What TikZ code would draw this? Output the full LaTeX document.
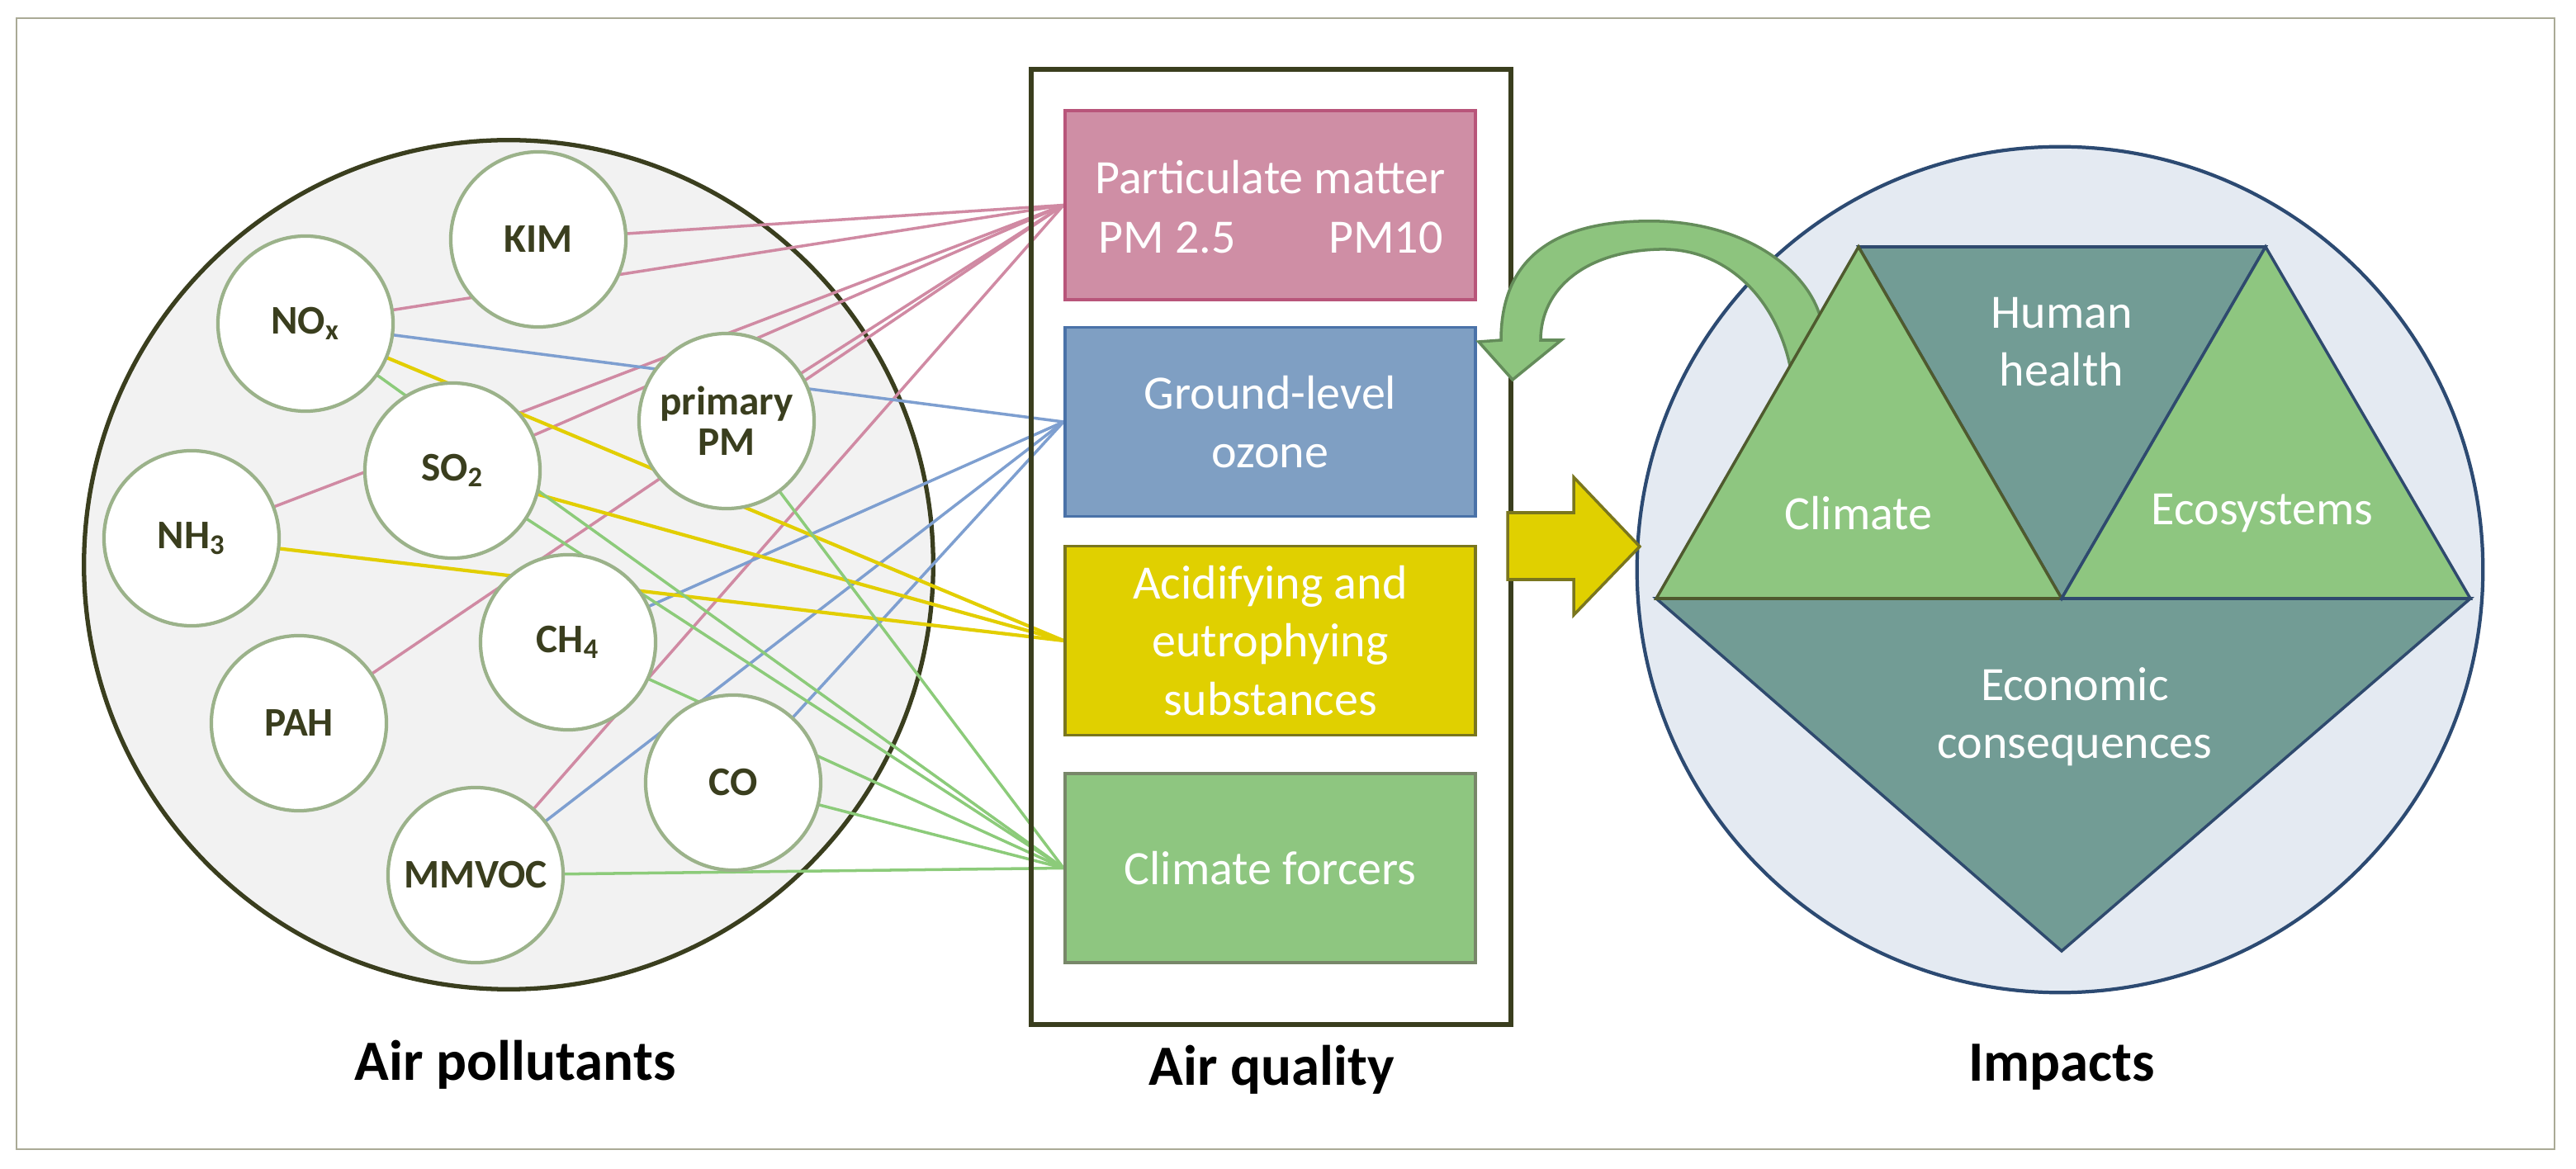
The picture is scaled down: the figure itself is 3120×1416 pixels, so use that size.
\documentclass[tikz,border=0pt]{standalone}
\usepackage{fontspec}
\setmainfont{Carlito}
\definecolor{frameC}{RGB}{170,170,150}
\definecolor{olive}{RGB}{58,62,30}
\definecolor{bigfill}{RGB}{242,242,242}
\definecolor{smallB}{RGB}{155,178,138}
\definecolor{pmF}{RGB}{207,142,165}\definecolor{pmB}{RGB}{184,85,122}
\definecolor{ozF}{RGB}{127,159,195}\definecolor{ozB}{RGB}{74,114,168}
\definecolor{acF}{RGB}{224,208,0}\definecolor{acB}{RGB}{122,118,30}
\definecolor{clF}{RGB}{142,198,128}\definecolor{clB}{RGB}{120,135,105}
\definecolor{pinkL}{RGB}{208,138,163}\definecolor{blueL}{RGB}{126,159,208}
\definecolor{yelL}{RGB}{226,206,0}\definecolor{greenL}{RGB}{140,203,122}
\definecolor{triG}{RGB}{142,198,128}\definecolor{triT}{RGB}{114,156,149}
\definecolor{triGB}{RGB}{79,90,46}\definecolor{triTB}{RGB}{47,74,110}
\definecolor{rcF}{RGB}{228,234,242}\definecolor{rcB}{RGB}{44,74,114}
\definecolor{arG}{RGB}{141,196,126}\definecolor{arGB}{RGB}{100,140,90}
\pgfdeclarelayer{back}\pgfdeclarelayer{lines}
\pgfsetlayers{back,lines,main}
\tikzset{
 pol/.style={circle,draw=smallB,fill=white,line width=1.2pt,minimum size=2.12cm,inner sep=0pt,
   text=olive,font=\fontsize{14}{16}\selectfont\bfseries,align=center},
 aq/.style={rectangle,line width=1pt,minimum width=4.97cm,minimum height=2.29cm,inner sep=0pt,
   text=white,font=\fontsize{16.5}{20}\selectfont,align=center},
 lbl/.style={font=\fontsize{19.6}{22}\selectfont\bfseries,text=black},
 wtxt/.style={text=white,font=\fontsize{16.5}{20}\selectfont,align=center},
 pl/.style={pinkL,line width=1pt},
 bl/.style={blueL,line width=1pt},
 yl/.style={yelL,line width=1.2pt},
 gl/.style={greenL,line width=1pt},
}
\begin{document}
\begin{tikzpicture}[x=0.01cm,y=-0.01cm]
\useasboundingbox (0,0) rectangle (3120,1416);
\draw[frameC,line width=0.8pt] (20,22) rectangle (3094,1392);
\begin{pgfonlayer}{back}
\node[circle,draw=olive,fill=bigfill,line width=1.5pt,minimum size=10.28cm] (big) at (616,684) {};
\end{pgfonlayer}
\node[pol] (kim) at (652,290) {KIM};
\node[pol] (nox) at (370,392) {NO\textsubscript{x}};
\node[pol] (ppm) at (880,510) {primary\\[-2pt]PM};
\node[pol] (so2) at (548,570) {SO\textsubscript{2}};
\node[pol] (nh3) at (232,652) {NH\textsubscript{3}};
\node[pol] (ch4) at (688,778) {CH\textsubscript{4}};
\node[pol] (pah) at (362,876) {PAH};
\node[pol] (co) at (888,948) {CO};
\node[pol] (mmvoc) at (576,1060) {MMVOC};
\node[lbl] (lp) at (624,1290) {Air pollutants};
\draw[olive,line width=1.5pt] (1249,84) rectangle (1830,1241);
\node[aq,fill=pmF,draw=pmB] (pm) at (1538.5,248.5) {};
\node[wtxt] (pmt) at (1538.5,215) {Particulate matter};
\node[wtxt,anchor=west] (pm25) at (1318,288) {PM 2.5};
\node[wtxt,anchor=east] (pm10) at (1760,288) {PM10};
\node[aq,fill=ozF,draw=ozB] (oz) at (1538.5,511) {Ground-level\\ozone};
\node[aq,fill=acF,draw=acB] (ac) at (1538.5,776) {Acidifying and\\eutrophying\\substances};
\node[aq,fill=clF,draw=clB] (cl) at (1538.5,1051.5) {Climate forcers};
\node[lbl] (la) at (1540,1296) {Air quality};
\begin{pgfonlayer}{lines}
\foreach \s in {kim,nox,so2,nh3,pah,mmvoc,ppm} \draw[pl] (\s.center) -- (pm.west);
\foreach \s in {nox,ch4,mmvoc,co} \draw[bl] (\s.center) -- (oz.west);
\foreach \s in {nox,so2,nh3} \draw[yl] (\s.center) -- (ac.west);
\foreach \s in {nox,so2,ch4,ppm,co,mmvoc} \draw[gl] (\s.center) -- (cl.west);
\end{pgfonlayer}
\node[circle,draw=rcB,fill=rcF,line width=1.2pt,minimum size=10.24cm] (rc) at (2495,690) {};
\filldraw[fill=arG,draw=arGB,line width=1pt] (1818,412) .. controls (1818,300) and (1900,265) .. (2010,268)
  .. controls (2120,272) and (2190,330) .. (2205,385) -- (2168,443)
  .. controls (2150,360) and (2090,300) .. (2010,302) .. controls (1920,304) and (1866,350) .. (1866,412)
  -- (1891,412) -- (1832,460) -- (1791,414) -- cycle;
\filldraw[fill=acF,draw=acB,line width=1pt] (1826,621) -- (1906,621) -- (1906,578) -- (1986,662) -- (1906,745) -- (1906,702) -- (1826,702) -- cycle;
\filldraw[fill=triT,draw=triTB,line width=1pt] (2006,725) -- (2992,725) -- (2497,1152) -- cycle;
\filldraw[fill=triT,draw=triTB,line width=1pt] (2251,299) -- (2744,299) -- (2497,725) -- cycle;
\filldraw[fill=triG,draw=triGB,line width=1pt] (2006,725) -- (2251,299) -- (2497,725) -- cycle;
\filldraw[fill=triG,draw=triTB,line width=1pt] (2497,725) -- (2744,299) -- (2992,725) -- cycle;
\node[wtxt] (hh) at (2497,414) {Human\\health};
\node[wtxt] (cli) at (2251,622) {Climate};
\node[wtxt] (eco) at (2740,622) {Ecosystems};
\node[wtxt] (econ) at (2513,868) {Economic\\consequences};
\node[lbl] (li) at (2497,1293) {Impacts};
\end{tikzpicture}
\end{document}
